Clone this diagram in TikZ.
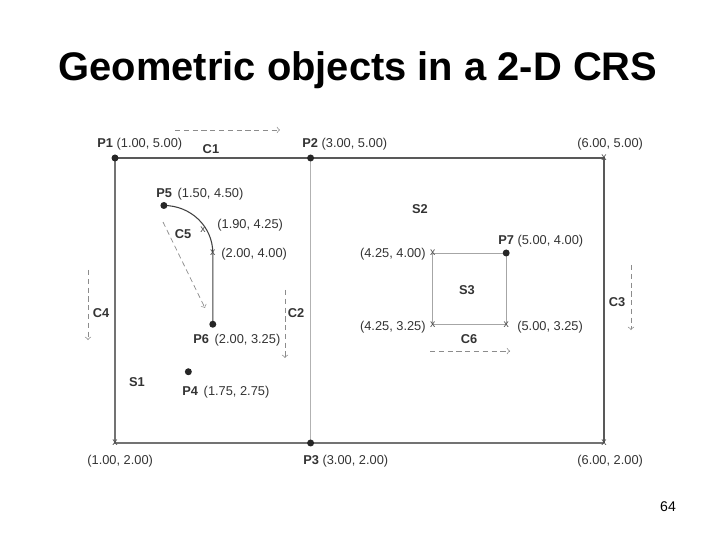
\documentclass[tikz,border=0pt]{standalone}
\usepackage{fontspec}
\setmainfont{Liberation Sans}
\usetikzlibrary{positioning,backgrounds}

\tikzstyle{pnt}=[circle, fill=black!85, minimum size=0.14cm, inner sep=0pt]
\tikzstyle{crs}=[inner sep=0pt, font=\fontsize{6}{6}\selectfont, text=black!70]

\begin{document}
\begin{tikzpicture}[lb/.style = {inner sep=0pt, font=\fontsize{7.3}{8}\selectfont, text=black!80}, bl/.style = {lb, font=\fontsize{7.3}{8}\selectfont\bfseries}, fl/.style = {draw=black!45, dash pattern=on 3pt off 2pt, ->, line width=0.4pt}]
  \useasboundingbox (0,0) rectangle (14.4,10.8);
  \node (title) at (7.16,9.40) {\fontsize{22.7}{26}\selectfont\bfseries Geometric objects in a 2-D CRS};
  \node (page) at (13.36,0.66) {\fontsize{8}{9}\selectfont 64};

  \begin{scope}[x=1.956cm, y=1.9cm, shift={(0.344cm,-1.86cm)}]
    % points
    \node (P1) [pnt] at (1,5) {};
    \node (P2) [pnt] at (3,5) {};
    \node (P3) [pnt] at (3,2) {};
    \node (P4) [pnt] at (1.75,2.75) {};
    \node (P5) [pnt] at (1.5,4.5) {};
    \node (P6) [pnt] at (2,3.25) {};
    \node (P7) [pnt] at (5,4) {};
    % vertices
    \node (X65) [crs] at (6,5) {x};
    \node (X12) [crs] at (1,2) {x};
    \node (X62) [crs] at (6,2) {x};
    \node (X19) [crs] at (1.9,4.25) {x};
    \node (X24) [crs] at (2,4) {x};
    \node (X44) [crs] at (4.25,4) {x};
    \node (X43) [crs] at (4.25,3.25) {x};
    \node (X53) [crs] at (5,3.25) {x};

    % surfaces and curves
    \begin{scope}[on background layer]
      \draw[black!65, line width=1pt] (P1.center) -- (P2.center) -- (X65.center) -- (X62.center);
      \draw[black!55, line width=0.6pt] (P1.center) -- (X12.center) -- (P3.center) -- (X62.center);
      \draw[black!30, line width=0.5pt] (P2.center) -- (P3.center);
      \draw[black!35, line width=0.5pt] (X44.center) -- (P7.center) -- (X53.center) -- (X43.center) -- cycle;
      \draw[black!75, line width=0.6pt] (P5.center) to[out=0, in=90] (X24.center) -- (P6.center);
    \end{scope}

    % directions
    \coordinate (a1) at (1.614,5.295); \coordinate (b1) at (2.687,5.295);
    \coordinate (a5) at (1.491,4.326); \coordinate (b5) at (1.92,3.421);
    \coordinate (a4) at (0.724,3.821); \coordinate (b4) at (0.724,3.084);
    \coordinate (a2) at (2.738,3.611); \coordinate (b2) at (2.738,2.895);
    \coordinate (a3) at (6.276,3.874); \coordinate (b3) at (6.276,3.189);
    \coordinate (a6) at (4.221,2.968); \coordinate (b6) at (5.039,2.968);
    \draw[fl] (a1) -- (b1);
    \draw[fl] (a5) -- (b5);
    \draw[fl] (a4) -- (b4);
    \draw[fl] (a2) -- (b2);
    \draw[fl] (a3) -- (b3);
    \draw[fl] (a6) -- (b6);

    % labels
    \node (tP1) [lb, anchor=west] at (0.816,5.147) {\textbf{P1} (1.00, 5.00)};
    \node (tP2) [lb, anchor=west] at (2.912,5.147) {\textbf{P2} (3.00, 5.00)};
    \node (t65) [lb, anchor=west] at (5.724,5.147) {(6.00, 5.00)};
    \node (tP5) [lb, anchor=west] at (1.419,4.621) {\textbf{P5}\, (1.50, 4.50)};
    \node (t19) [lb, anchor=west] at (2.043,4.295) {(1.90, 4.25)};
    \node (t24) [lb, anchor=west] at (2.084,3.989) {(2.00, 4.00)};
    \node (tP6) [lb, anchor=west] at (1.797,3.084) {\textbf{P6}\, (2.00, 3.25)};
    \node (tP4) [lb, anchor=west] at (1.685,2.537) {\textbf{P4}\, (1.75, 2.75)};
    \node (t12) [lb, anchor=west] at (0.714,1.811) {(1.00, 2.00)};
    \node (tP3) [lb, anchor=west] at (2.922,1.811) {\textbf{P3} (3.00, 2.00)};
    \node (t62) [lb, anchor=west] at (5.724,1.811) {(6.00, 2.00)};
    \node (tP7) [lb, anchor=west] at (4.916,4.126) {\textbf{P7} (5.00, 4.00)};
    \node (t44) [lb, anchor=east] at (4.18,3.989) {(4.25, 4.00)};
    \node (t43) [lb, anchor=east] at (4.18,3.221) {(4.25, 3.25)};
    \node (t53) [lb, anchor=west] at (5.11,3.221) {(5.00, 3.25)};
    \node (tC1) [bl] at (1.981,5.095) {C1};
    \node (tC5) [bl] at (1.695,4.2) {C5};
    \node (tC4) [bl] at (0.857,3.368) {C4};
    \node (tC2) [bl] at (2.851,3.368) {C2};
    \node (tC3) [bl] at (6.133,3.484) {C3};
    \node (tC6) [bl] at (4.62,3.095) {C6};
    \node (tS1) [bl] at (1.225,2.642) {S1};
    \node (tS2) [bl] at (4.118,4.463) {S2};
    \node (tS3) [bl] at (4.599,3.611) {S3};
  \end{scope}
\end{tikzpicture}
\end{document}
